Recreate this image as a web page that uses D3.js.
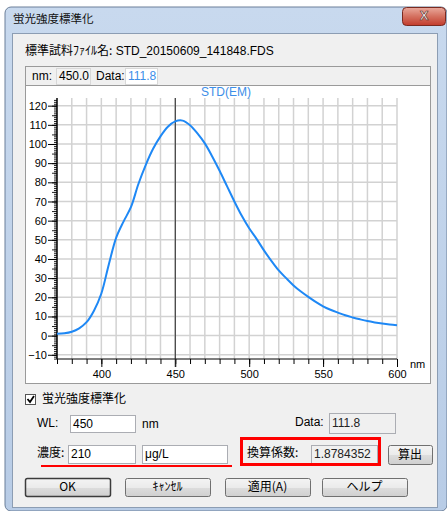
<!DOCTYPE html>
<html>
<head>
<meta charset="utf-8">
<script src="https://cdn.jsdelivr.net/npm/d3@7"></script>
<style>
body { margin: 0; background: #fff; }
text { font-family: "Liberation Sans", Arial, "Noto Sans CJK JP", sans-serif; }
.jp { font-family: "Noto Sans CJK JP", sans-serif; }
</style>
</head>
<body>
<div id="chart"></div>
<script>
// spectrum (nm, intensity)
var wavelengths = [370, 375, 380, 385, 390, 395, 400, 405, 410, 415, 420, 425, 430, 435, 440, 445, 450, 455,
    460, 465, 470, 475, 480, 485, 490, 495, 500, 505, 510, 515, 520, 525, 530, 535, 540, 545, 550, 555,
    560, 565, 570, 575, 580, 585, 590, 595, 600];
var intensities = [1.0, 1.2, 2.0, 3.8, 7.0, 13.0, 22.0, 37, 51, 59.5, 67, 79, 89, 97.5, 104, 109, 111.8, 112.2,
    109.8, 105.5, 100.3, 93.5, 86, 78, 70, 62.5, 56, 50.5, 44.5, 39, 34, 30, 26.2, 23, 20.2, 17.6, 15.3, 13.5,
    12, 10.6, 9.5, 8.5, 7.6, 6.9, 6.3, 5.8, 5.4];

var x_ticks = [400, 450, 500, 550, 600];
var y_ticks = [-10, 0, 10, 20, 30, 40, 50, 60, 70, 80, 90, 100, 110, 120];
var cursor_nm = 450;
var cursor_value = '111.8';
var series_name = 'STD(EM)';

var width = 447, height = 511;

var svg = d3.select('#chart')
    .append('svg')
    .attr('width', width)
    .attr('height', height);

// ---- window chrome ----
var defs = svg.append('defs');
var g1 = defs.append('linearGradient').attr('id', 'frame').attr('x1', 0).attr('y1', 0).attr('x2', 0).attr('y2', 1);
g1.append('stop').attr('offset', 0).attr('stop-color', '#c8d9ee');
g1.append('stop').attr('offset', 1).attr('stop-color', '#b8cce6');
var g2 = defs.append('linearGradient').attr('id', 'closebtn').attr('x1', 0).attr('y1', 0).attr('x2', 0).attr('y2', 1);
g2.append('stop').attr('offset', 0).attr('stop-color', '#eaa99c');
g2.append('stop').attr('offset', 0.5).attr('stop-color', '#d4705f');
g2.append('stop').attr('offset', 1).attr('stop-color', '#c23b2c');
var g3 = defs.append('linearGradient').attr('id', 'btn').attr('x1', 0).attr('y1', 0).attr('x2', 0).attr('y2', 1);
g3.append('stop').attr('offset', 0).attr('stop-color', '#f4f4f4');
g3.append('stop').attr('offset', 0.5).attr('stop-color', '#ebebeb');
g3.append('stop').attr('offset', 0.51).attr('stop-color', '#dddddd');
g3.append('stop').attr('offset', 1).attr('stop-color', '#cfcfcf');

svg.append('rect').attr('x', 5).attr('y', 7).attr('width', 442).attr('height', 504)
    .attr('rx', 6).attr('fill', 'url(#frame)').attr('stroke', '#6b7f99');

svg.append('text').attr('class', 'jp').attr('x', 13).attr('y', 20)
    .attr('dominant-baseline', 'middle').attr('font-size', 11.5).attr('fill', '#111')
    .text('蛍光強度標準化');

svg.append('rect').attr('x', 402.5).attr('y', 7.5).attr('width', 43).attr('height', 18)
    .attr('rx', 4).attr('fill', 'url(#closebtn)').attr('stroke', '#7a2a20');
svg.append('text').attr('x', 424).attr('y', 17).attr('text-anchor', 'middle')
    .attr('dominant-baseline', 'middle').attr('font-size', 13).attr('font-weight', 'bold')
    .attr('fill', '#fff').attr('stroke', '#5a2a25').attr('stroke-width', 0.6).text('X');

svg.append('rect').attr('x', 12.5).attr('y', 33.5).attr('width', 425).attr('height', 474)
    .attr('fill', '#f0f0f0').attr('stroke', '#8c9db3');

svg.append('text').attr('x', 25).attr('y', 52).attr('dominant-baseline', 'middle')
    .attr('font-size', 12).attr('fill', '#000')
    .call(function(t) {
        t.append('tspan').attr('class', 'jp').text('標準試料ﾌｧｲﾙ名:');
        t.append('tspan').text(' STD_20150609_141848.FDS');
    });

// ---- chart panel ----
svg.append('rect').attr('x', 25.5).attr('y', 66.5).attr('width', 405).attr('height', 317)
    .attr('fill', '#fff').attr('stroke', '#9a9a9a');
svg.append('rect').attr('x', 26).attr('y', 67).attr('width', 404).attr('height', 18)
    .attr('fill', '#f0f0f0');
svg.append('line').attr('x1', 26).attr('x2', 430).attr('y1', 85.5).attr('y2', 85.5).attr('stroke', '#9a9a9a');

function field(x, y, w, h, bg, txt, color, edge) {
    svg.append('rect').attr('x', x + 0.5).attr('y', y + 0.5).attr('width', w).attr('height', h)
        .attr('fill', bg).attr('stroke', edge || '#abadb3');
    svg.append('text').attr('x', x + 3).attr('y', y + h / 2 + 1)
        .attr('dominant-baseline', 'middle').attr('font-size', 12).attr('fill', color).text(txt);
}
function label(x, y, txt, cls) {
    svg.append('text').attr('class', cls || null).attr('x', x).attr('y', y)
        .attr('dominant-baseline', 'middle').attr('font-size', 12).attr('fill', '#000').text(txt);
}

label(32, 77, 'nm:');
field(56, 68, 34, 16, '#f2f2f2', cursor_nm.toFixed(1), '#000', '#d8d8d8');
label(96, 77, 'Data:');
field(125, 68, 32, 16, '#fff', cursor_value, '#3c8ee8', '#d8d8d8');

// ---- plot ----
var x_scale = d3.scaleLinear().domain([370, 600]).range([57, 397]);
var y_scale = d3.scaleLinear().domain([-12.2, 124]).range([359, 98]);

var grid = svg.append('g');
grid.selectAll('.vg')
    .data(d3.range(380, 601, 10))
    .enter().append('line')
    .attr('x1', function(d) { return x_scale(d); })
    .attr('x2', function(d) { return x_scale(d); })
    .attr('y1', y_scale.range()[1])
    .attr('y2', y_scale.range()[0])
    .attr('stroke', '#d2d2d2').attr('stroke-width', 1.5);
grid.selectAll('.hg')
    .data(y_ticks)
    .enter().append('line')
    .attr('x1', x_scale.range()[0])
    .attr('x2', x_scale.range()[1])
    .attr('y1', function(d) { return y_scale(d); })
    .attr('y2', function(d) { return y_scale(d); })
    .attr('stroke', '#d2d2d2').attr('stroke-width', 1.5);

// y axis: ruler style minor ticks + labelled major ticks
svg.append('g').attr('transform', 'translate(57,0)')
    .call(d3.axisLeft(y_scale).tickValues(d3.range(-12, 124, 1)).tickSize(3).tickFormat(''))
    .call(function(g) { g.select('.domain').remove(); g.selectAll('line').attr('stroke', '#222'); });
svg.append('g').attr('transform', 'translate(57,0)')
    .call(d3.axisLeft(y_scale).tickValues(d3.range(-10, 124, 5)).tickSize(5).tickFormat(''))
    .call(function(g) { g.select('.domain').remove(); g.selectAll('line').attr('stroke', '#222'); });
var y_axis = svg.append('g').attr('transform', 'translate(57,0)')
    .call(d3.axisLeft(y_scale).tickValues(y_ticks).tickSize(9).tickPadding(1)
        .tickFormat(function(d) { return d < 0 ? '\u2212' + Math.abs(d) : d; }));
y_axis.select('.domain').attr('d', 'M0,' + y_scale.range()[1] + 'V' + y_scale.range()[0]).attr('stroke', '#000').attr('stroke-width', 1.5);
y_axis.selectAll('text').attr('font-size', 11).attr('fill', '#000')
    .attr('font-family', '"Liberation Sans", Arial, sans-serif');

// x axis
svg.append('g').attr('transform', 'translate(0,359)')
    .call(d3.axisBottom(x_scale).tickValues(d3.range(370, 601, 10)).tickSize(5).tickFormat(''))
    .call(function(g) { g.select('.domain').remove(); g.selectAll('line').attr('stroke', '#000'); });
var x_axis = svg.append('g').attr('transform', 'translate(0,359)')
    .call(d3.axisBottom(x_scale).tickValues(x_ticks).tickSize(8).tickPadding(3));
x_axis.select('.domain').attr('d', 'M' + x_scale.range()[0] + ',0H' + x_scale.range()[1]).attr('stroke', '#000');
x_axis.selectAll('line').attr('stroke', '#000');
x_axis.selectAll('text').attr('font-size', 11).attr('fill', '#000')
    .attr('font-family', '"Liberation Sans", Arial, sans-serif');

svg.append('text').attr('x', 410).attr('y', 365).attr('dominant-baseline', 'middle')
    .attr('font-size', 11).attr('fill', '#000').text('nm');

// cursor line
svg.append('line')
    .attr('x1', x_scale(cursor_nm)).attr('x2', x_scale(cursor_nm))
    .attr('y1', y_scale.range()[1]).attr('y2', y_scale.range()[0] + 8)
    .attr('stroke', '#222').attr('stroke-width', 1);

// curve
var spectrum = wavelengths.map(function(w, i) { return {nm: w, v: intensities[i]}; });
var line = d3.line()
    .x(function(d) { return x_scale(d.nm); })
    .y(function(d) { return y_scale(d.v); })
    .curve(d3.curveCatmullRom.alpha(0.5));
svg.append('path')
    .datum(spectrum)
    .attr('d', line)
    .attr('fill', 'none')
    .attr('stroke', '#1e88f5')
    .attr('stroke-width', 2);

svg.append('text').attr('x', 226).attr('y', 93).attr('text-anchor', 'middle')
    .attr('dominant-baseline', 'middle').attr('font-size', 12).attr('fill', '#3c8ee8')
    .text(series_name);

// ---- lower controls ----
svg.append('rect').attr('x', 25.5).attr('y', 394.5).attr('width', 10).attr('height', 10)
    .attr('fill', '#fff').attr('stroke', '#555');
svg.append('path').attr('d', 'M27.5,399 L30,402 L34,396').attr('fill', 'none')
    .attr('stroke', '#000').attr('stroke-width', 1.8);
label(42, 400, '蛍光強度標準化', 'jp');

label(37, 424, 'WL:');
field(70, 415, 65, 17, '#fff', '450', '#000');
label(142, 425, 'nm');
label(295, 423, 'Data:');
field(329, 413, 66, 20, '#f0f0f0', '111.8', '#222');

label(37, 454, '濃度:', 'jp');
field(68, 445, 67, 18, '#fff', '210', '#000');
field(142, 445, 85, 18, '#fff', 'μg/L', '#000');
svg.append('line').attr('x1', 41).attr('x2', 232).attr('y1', 466).attr('y2', 466)
    .attr('stroke', '#ff0000').attr('stroke-width', 2);

label(247, 454, '換算係数:', 'jp');
field(311, 445, 66, 18, '#f0f0f0', '1.8784352', '#222');
svg.append('rect').attr('x', 241.5).attr('y', 438.5).attr('width', 138).attr('height', 26)
    .attr('fill', 'none').attr('stroke', '#ff0000').attr('stroke-width', 3);

function button(x, y, w, h, txt, strong) {
    svg.append('rect').attr('x', x + 0.5).attr('y', y + 0.5).attr('width', w).attr('height', h)
        .attr('rx', 2).attr('fill', 'url(#btn)').attr('stroke', strong ? '#3c3c3c' : '#707070')
        .attr('stroke-width', strong ? 1.5 : 1);
    svg.append('text').attr('class', 'jp').attr('x', x + w / 2).attr('y', y + h / 2 + 1)
        .attr('text-anchor', 'middle').attr('dominant-baseline', 'middle')
        .attr('font-size', 12).attr('fill', '#000').text(txt);
}
button(388, 445, 44, 19, '算出');
button(25, 478, 85, 18, 'OK', true);
button(125, 478, 85, 18, 'ｷｬﾝｾﾙ');
button(225, 478, 85, 18, '適用(A)');
button(322, 478, 85, 18, 'ヘルプ');
</script>
</body>
</html>
